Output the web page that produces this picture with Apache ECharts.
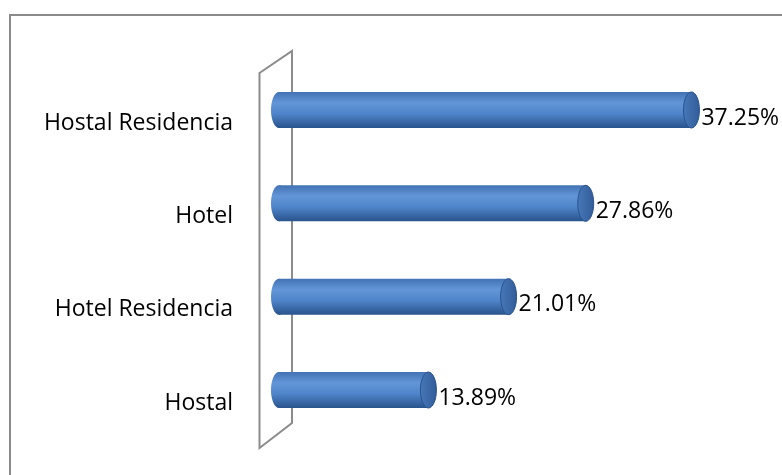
<!DOCTYPE html>
<html>
<head>
<meta charset="utf-8">
<script src="https://cdn.jsdelivr.net/npm/echarts@6/dist/echarts.min.js"></script>
<style>
  html, body { margin: 0; padding: 0; background: #fff; }
  #chart { width: 782px; height: 475px; }
</style>
</head>
<body>
<div id="chart"></div>
<script>
// Share of establishments by type (%), listed bottom to top
const categories = ['Hostal', 'Hotel Residencia', 'Hotel', 'Hostal Residencia'];
const shares = [13.89, 21.01, 27.86, 37.25];

const FONT = '"Open Sans", "Liberation Sans", sans-serif';
const BAR_H = 36;
const CAP_RX = 8;

const bodyFill = new echarts.graphic.LinearGradient(0, 0, 0, 1, [
  { offset: 0, color: '#4272b3' },
  { offset: 0.3, color: '#6296d8' },
  { offset: 0.6, color: '#4f85ca' },
  { offset: 1, color: '#29538c' }
]);
const capFill = new echarts.graphic.LinearGradient(0, 0, 1, 0, [
  { offset: 0, color: '#4878b9' },
  { offset: 1, color: '#315c98' }
]);

function renderCylinder(params, api) {
  const v = api.value(0);
  const c = api.value(1);
  const p0 = api.coord([0, c]);
  const p1 = api.coord([v, c]);
  const xl = p0[0] + 7;
  const xr = p1[0];
  const cy = p0[1];
  return {
    type: 'group',
    children: [
      {
        type: 'ellipse',
        shape: { cx: xl, cy: cy, rx: CAP_RX, ry: BAR_H / 2 },
        style: { fill: bodyFill }
      },
      {
        type: 'rect',
        shape: { x: xl, y: cy - BAR_H / 2, width: xr - xl, height: BAR_H },
        style: { fill: bodyFill }
      },
      {
        type: 'ellipse',
        shape: { cx: xr, cy: cy, rx: CAP_RX, ry: BAR_H / 2 },
        style: { fill: capFill, stroke: '#2a548e', lineWidth: 1 }
      },
      {
        type: 'text',
        style: {
          text: v.toFixed(2) + '%',
          x: xr + CAP_RX + 2,
          y: cy + 8,
          fill: '#000',
          font: '23px ' + FONT,
          verticalAlign: 'middle',
          align: 'left'
        }
      }
    ]
  };
}

const chart = echarts.init(document.getElementById('chart'));
chart.setOption({
  backgroundColor: '#fff',
  animation: false,
  grid: { left: 272, right: 59.6, top: 63.3, bottom: 38.3, containLabel: false },
  xAxis: {
    type: 'value', min: 0, max: 40, show: false
  },
  yAxis: {
    type: 'category',
    data: categories,
    axisLine: { show: false },
    axisTick: { show: false },
    axisLabel: {
      margin: 39,
      color: '#000',
      fontFamily: FONT,
      fontSize: 23,
      verticalAlign: 'top',
      lineHeight: 26
    }
  },
  graphic: [
    {
      type: 'rect', z: 0,
      shape: { x: 10, y: 15, width: 900, height: 600 },
      style: { fill: 'none', stroke: '#8a8a8a', lineWidth: 2 }
    },
    {
      type: 'polygon', z: 0,
      shape: { points: [[259.5, 73], [292, 51], [292, 423], [259.5, 448]] },
      style: { fill: 'none', stroke: '#8c8c8c', lineWidth: 2 }
    }
  ],
  series: [{
    type: 'custom',
    z: 10,
    renderItem: renderCylinder,
    data: shares.map((v, i) => [v, i])
  }]
});
</script>
</body>
</html>
